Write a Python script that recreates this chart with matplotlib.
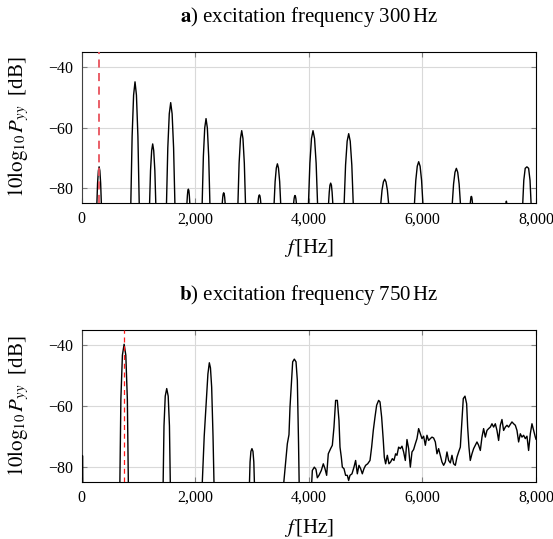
import matplotlib
matplotlib.use('Agg')
import matplotlib.pyplot as plt

plt.rcParams['font.family'] = ['Liberation Serif', 'DejaVu Serif']
plt.rcParams['mathtext.fontset'] = 'stix'

# ---------------- data ----------------
x_ticks = [0, 2000, 4000, 6000, 8000]
x_tick_labels = ['0', '2,000', '4,000', '6,000', '8,000']
y_ticks = [-80, -60, -40]
y_tick_labels = ['\u221280', '\u221260', '\u221240']

excitation_a = 300
excitation_b = 750

# panel a) spectrum (Hz, dB)
a_freq = [
    264, 283, 297, 310, 323, 337, 356,
    855, 891, 917, 942, 967, 993, 1029,
    1189, 1215, 1235, 1253, 1271, 1291, 1317,
    1483, 1519, 1545, 1570, 1595, 1621, 1657,
    1851, 1864, 1872, 1881, 1890, 1898, 1911,
    2112, 2145, 2169, 2192, 2215, 2239, 2272,
    2473, 2486, 2494, 2503, 2512, 2520, 2533,
    2742, 2774, 2798, 2820, 2842, 2866, 2898,
    3101, 3114, 3122, 3131, 3140, 3148, 3161,
    3380, 3408, 3429, 3448, 3467, 3488, 3516,
    3730, 3742, 3750, 3758, 3766, 3774, 3786,
    3981, 4020, 4048, 4075, 4102, 4130, 4169,
    4342, 4361, 4373, 4386, 4399, 4411, 4430,
    4609, 4648, 4676, 4703, 4730, 4758, 4797,
    5257, 5290, 5314, 5337, 5360, 5384, 5417,
    5848, 5884, 5910, 5935, 5960, 5986, 6022,
    6514, 6549, 6574, 6598, 6622, 6647, 6682,
    6839, 6849, 6855, 6862, 6869, 6875, 6885,
    7464, 7470, 7474, 7478, 7482, 7486, 7492,
    7755, 7785, 7810, 7840, 7870, 7895, 7925,
]
a_db = [
    -88.8, -78.4, -74.3, -73.0, -74.3, -78.4, -88.8,
    -97.9, -62.9, -49.2, -44.8, -49.2, -62.9, -97.9,
    -91.3, -74.2, -67.6, -65.4, -67.6, -74.2, -91.3,
    -95.7, -66.7, -55.4, -51.7, -55.4, -66.7, -95.7,
    -86.5, -82.5, -80.9, -80.4, -80.9, -82.5, -86.5,
    -94.0, -69.6, -60.1, -57.0, -60.1, -69.6, -94.0,
    -86.1, -83.1, -82.0, -81.6, -82.0, -83.1, -86.1,
    -92.7, -71.8, -63.6, -61.0, -63.6, -71.8, -92.7,
    -85.9, -83.5, -82.6, -82.3, -82.6, -83.5, -85.9,
    -89.2, -77.9, -73.4, -72.0, -73.4, -77.9, -89.2,
    -85.8, -83.6, -82.8, -82.5, -82.8, -83.6, -85.8,
    -92.7, -71.8, -63.6, -61.0, -63.6, -71.8, -92.7,
    -87.1, -81.4, -79.1, -78.4, -79.1, -81.4, -87.1,
    -92.4, -72.4, -64.5, -62.0, -64.5, -72.4, -92.4,
    -87.5, -80.7, -78.0, -77.1, -78.0, -80.7, -87.5,
    -89.4, -77.5, -72.8, -71.3, -72.8, -77.5, -89.4,
    -88.7, -78.7, -74.8, -73.5, -74.8, -78.7, -88.7,
    -85.7, -83.8, -83.0, -82.8, -83.0, -83.8, -85.7,
    -87.0, -85.3, -84.6, -84.4, -84.6, -85.3, -87.0,
    -90.0, -77.5, -73.5, -73.0, -73.5, -77.5, -90.0,
]

# panel b) spectrum (Hz, dB)
b_freq = [
    0, 20, 26,
    667, 693, 720, 750, 780, 807, 833,
    1430, 1452, 1474, 1500, 1526, 1548, 1570,
    2100, 2127, 2160, 2191, 2225, 2250, 2270, 2291, 2315, 2345,
    2952, 2967, 2982, 3000, 3018, 3033, 3048,
    3540, 3552, 3623, 3652, 3670, 3717, 3746, 3776, 3799, 3820, 3840,
    4040, 4051, 4063, 4098, 4127, 4151, 4180, 4221, 4256, 4286, 4315,
    4344, 4385, 4415, 4444, 4473, 4503, 4532, 4550, 4573, 4591,
    4620, 4649, 4679, 4702, 4726, 4761, 4796, 4825, 4855, 4884,
    4913, 4943, 4972, 5001, 5037, 5078, 5107, 5136, 5166, 5195,
    5230, 5254, 5283, 5312, 5330, 5353, 5383, 5412, 5441, 5471,
    5500, 5529, 5553, 5582, 5612, 5641, 5670, 5700, 5729, 5758,
    5788, 5817, 5846, 5876, 5905, 5934, 5964, 5993, 6022, 6052,
    6081, 6110, 6140, 6169, 6198, 6228, 6257, 6286, 6316, 6345,
    6374, 6404, 6433, 6462, 6492, 6521, 6550, 6580, 6609, 6638,
    6668, 6697, 6720, 6750, 6779, 6797, 6820, 6843, 6873, 6902,
    6932, 6961, 6990, 7020, 7049, 7078, 7108, 7137, 7166, 7196,
    7225, 7254, 7284, 7313, 7342, 7372, 7401, 7430, 7460, 7489,
    7518, 7548, 7577, 7606, 7636, 7665, 7694, 7724, 7753, 7782,
    7812, 7841, 7870, 7900, 7929, 7958, 7988, 8000,
]
b_db = [
    -76.3, -76.5, -100.0,
    -98.6, -57.8, -43.3, -39.7, -43.3, -57.8, -98.6,
    -94.2, -66.6, -56.8, -54.3, -56.8, -66.6, -94.2,
    -97.0, -85.0, -70.0, -60.4, -49.5, -45.8, -47.5, -53.8, -70.0, -97.0,
    -88.3, -78.5, -75.0, -74.1, -75.0, -78.5, -88.3,
    -96.0, -87.0, -72.5, -69.5, -60.4, -45.5, -44.6, -45.5, -51.6, -72.0, -96.0,
    -96.0, -85.7, -81.3, -80.2, -80.9, -83.7, -82.9, -81.3, -79.1, -80.7, -82.9,
    -75.8, -74.1, -73.0, -67.0, -58.2, -58.2, -64.8, -73.6, -76.9, -80.2,
    -80.7, -82.9, -82.9, -84.6, -82.9, -82.4, -80.2, -78.0, -82.4, -79.6,
    -80.7, -82.4, -80.7, -79.6, -79.1, -78.0, -73.6, -68.1, -63.7, -59.8,
    -58.2, -58.7, -63.7, -71.4, -76.9, -79.1, -76.3, -79.1, -78.5, -77.4,
    -78.0, -75.8, -76.3, -73.6, -74.1, -73.3, -75.2, -78.0, -71.1, -74.1,
    -80.2, -75.2, -74.4, -72.5, -70.8, -67.5, -69.2, -70.8, -70.0, -73.0,
    -69.7, -71.4, -70.8, -70.3, -70.6, -71.9, -75.8, -74.1, -76.3, -78.5,
    -79.6, -78.5, -75.2, -78.0, -78.8, -76.3, -79.1, -79.6, -76.9, -75.2,
    -73.6, -64.8, -57.6, -56.8, -59.3, -67.0, -73.6, -78.0, -75.8, -74.1,
    -73.0, -71.9, -73.0, -74.7, -70.3, -67.5, -70.3, -68.1, -67.5, -67.0,
    -65.9, -67.0, -65.9, -68.1, -71.4, -66.4, -64.5, -68.1, -67.0, -66.4,
    -67.0, -66.1, -65.3, -65.9, -66.4, -68.1, -71.9, -69.2, -70.3, -69.7,
    -70.8, -70.0, -74.7, -69.2, -65.9, -68.1, -70.3, -71.0,
]

titles = [r'$\mathbf{a}$) excitation frequency 300$\,$Hz',
          r'$\mathbf{b}$) excitation frequency 750$\,$Hz']
x_label = r'$f\,$[Hz]'
y_label = r'$10\log_{10}P_{yy}$  [dB]'

# ---------------- figure ----------------
W, H = 553, 539
fig = plt.figure(figsize=(W / 100, H / 100), dpi=100)

left_px, right_px = 81.5, 536.0
panels = [
    dict(top=52.3, bottom=203.0, f=a_freq, db=a_db, exc=excitation_a,
         ecol='#e8525c', elw=1.3, edash=(0, (4.5, 3)),
         title_y=16.7, xlabel_y=248.0),
    dict(top=330.0, bottom=481.7, f=b_freq, db=b_db, exc=excitation_b,
         ecol='#ff1a1a', elw=0.9, edash=(0, (4, 3)),
         title_y=295.0, xlabel_y=528.0),
]

for p, title in zip(panels, titles):
    ax = fig.add_axes([left_px / W, 1 - p['bottom'] / H,
                       (right_px - left_px) / W, (p['bottom'] - p['top']) / H])
    ax.plot(p['f'], p['db'], color='black', lw=1.0, zorder=3)
    ax.axvline(p['exc'], color=p['ecol'], lw=p['elw'], linestyle=p['edash'], zorder=4)
    ax.set_xlim(0, 8000)
    ax.set_ylim(-85, -35)
    ax.set_xticks(x_ticks, x_tick_labels)
    ax.set_yticks(y_ticks, y_tick_labels)
    ax.grid(True, color='#d9d9d9', lw=0.8, zorder=0)
    ax.set_axisbelow(True)
    ax.tick_params(direction='in', length=3.5, width=0.8, color='#7f7f7f',
                   top=True, right=True, labelsize=11.5, pad=6)
    for s in ax.spines.values():
        s.set_color('black')
        s.set_linewidth(0.8)
    ax.spines['left'].set_color('#404040')

    xc = (left_px + right_px) / 2 / W
    fig.text(xc, 1 - p['title_y'] / H, title, ha='center', va='center', fontsize=15)
    fig.text(xc, 1 - p['xlabel_y'] / H, x_label, ha='center', va='center', fontsize=15)
    fig.text(18.5 / W, 1 - (p['top'] + p['bottom']) / 2 / H, y_label,
             ha='center', va='center', rotation=90, fontsize=15)

fig.savefig('out.png', dpi=100)
